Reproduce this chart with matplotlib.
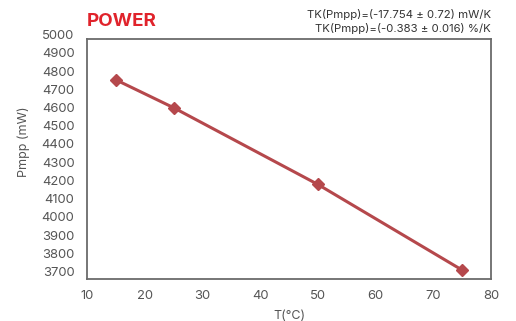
import matplotlib
matplotlib.use("Agg")
import matplotlib.pyplot as plt
import matplotlib.transforms as mtransforms

plt.rcParams['font.family'] = ['Inter', 'DejaVu Sans']

# Measured module power versus temperature
temperatures = [15, 25, 50, 75]
pmpp_mw = [4760, 4607, 4186, 3716]

x_ticks = [10, 20, 30, 40, 50, 60, 70, 80]
y_ticks = [3700, 3800, 3900, 4000, 4100, 4200, 4300, 4400, 4500, 4600, 4700, 4800, 4900, 5000]

title = "POWER"
coef_lines = ["TK(Pmpp)=(-17.754 ± 0.72) mW/K", "TK(Pmpp)=(-0.383 ± 0.016) %/K"]

W, H = 516, 321
fig = plt.figure(figsize=(W / 100, H / 100), dpi=100)
left, right, top, bottom = 87, 491, 39, 279
ax = fig.add_axes([left / W, 1 - bottom / H, (right - left) / W, (bottom - top) / H])

line_color = "#b5484c"
ax.plot(temperatures, pmpp_mw, color=line_color, lw=2.2, marker="D", ms=6,
        markeredgecolor=line_color, markerfacecolor=line_color, clip_on=False, zorder=3)

ax.set_xlim(10, 80)
ax.set_ylim(3667, 4984)
ax.set_xticks(x_ticks)
ax.set_yticks([])
ax.tick_params(axis="x", length=0, pad=8, labelsize=9.4, colors="#555555")

# y labels drawn at data positions (the top label sits just above the frame)
trans = mtransforms.blended_transform_factory(ax.transAxes, ax.transData)
for v in y_ticks:
    ax.text(-0.031, v, str(v), transform=trans, ha="right", va="center",
            fontsize=9.4, color="#555555", clip_on=False)

for s in ax.spines.values():
    s.set_color("#6b6b6b")
    s.set_linewidth(1.3)

ax.set_xlabel("T(°C)", fontsize=9.0, color="#555555", labelpad=6)
fig.text(24 / W, 1 - 142 / H, "Pmpp (mW)", rotation=90, fontsize=9.0,
         color="#555555", ha="center", va="center")

fig.text(left / W, 1 - 22 / H, title, fontsize=13.5, fontweight="bold",
         color="#e0232b", ha="left", va="center")
fig.text(right / W, 1 - 15 / H, coef_lines[0], fontsize=8.2, color="#333333",
         ha="right", va="center")
fig.text(right / W, 1 - 28 / H, coef_lines[1], fontsize=8.2, color="#333333",
         ha="right", va="center")

fig.savefig("out.png", dpi=100, facecolor="white")
